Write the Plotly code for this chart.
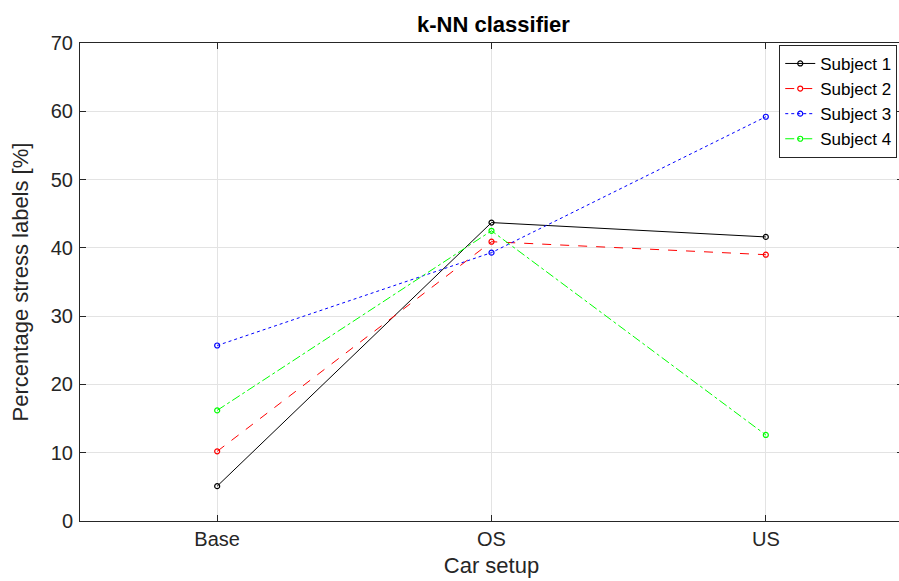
import plotly.graph_objects as go

categories = ["Base", "OS", "US"]
subject1 = [5.1, 43.7, 41.6]
subject2 = [10.2, 40.9, 39.0]
subject3 = [25.7, 39.3, 59.2]
subject4 = [16.2, 42.5, 12.6]
names = ["Subject 1", "Subject 2", "Subject 3", "Subject 4"]
yticks = [0, 10, 20, 30, 40, 50, 60, 70]

series = [subject1, subject2, subject3, subject4]
colors = ["#000000", "#ff0000", "#0000ff", "#00ff00"]
dashes = ["solid", "dash", "dot", "dashdot"]

fig = go.Figure()
for name, vals, c, d in zip(names, series, colors, dashes):
    fig.add_trace(go.Scatter(
        x=list(range(len(categories))), y=vals, name=name, mode="lines+markers",
        line=dict(color=c, width=1, dash=d),
        marker=dict(symbol="circle-open", size=5, color=c, line=dict(width=1.2, color=c)),
    ))

font = "Liberation Sans, Arial, sans-serif"
axis_common = dict(
    showline=True, linecolor="#262626", linewidth=1, mirror="ticks",
    ticks="inside", ticklen=6, tickcolor="#262626",
    showgrid=True, gridcolor="#e3e3e3", gridwidth=1, zeroline=False,
    tickfont=dict(family=font, size=20, color="#262626"),
)
fig.update_layout(
    width=903, height=581,
    margin=dict(l=80, r=0, t=43, b=60),
    paper_bgcolor="white", plot_bgcolor="white",
    title=dict(text="<b>k-NN classifier</b>", xref="container", x=0.5465, xanchor="center",
               yref="container", y=0.959, yanchor="middle",
               font=dict(family=font, size=22, color="black")),
    xaxis=dict(range=[-0.5, 2.5], tickmode="array", tickvals=list(range(len(categories))),
               ticktext=categories,
               title=dict(text="Car setup", font=dict(family=font, size=22, color="#262626"), standoff=8),
               **axis_common),
    yaxis=dict(range=[0, 70], tickmode="array", tickvals=yticks, ticktext=[str(v) for v in yticks],
               title=dict(text="Percentage stress labels [%]", font=dict(family=font, size=22, color="#262626"), standoff=16),
               ticklabelstandoff=2,
               **axis_common),
    legend=dict(x=0.993, xanchor="right", y=0.996, yanchor="top",
                bgcolor="white", bordercolor="#262626", borderwidth=1,
                font=dict(family=font, size=17, color="black"),
                tracegroupgap=0, itemwidth=30),
    showlegend=True,
)
fig.write_html(
    "out.html",
    config={"displayModeBar": False},
    post_script="document.body.style.margin='0';document.body.style.overflow='hidden';",
)
